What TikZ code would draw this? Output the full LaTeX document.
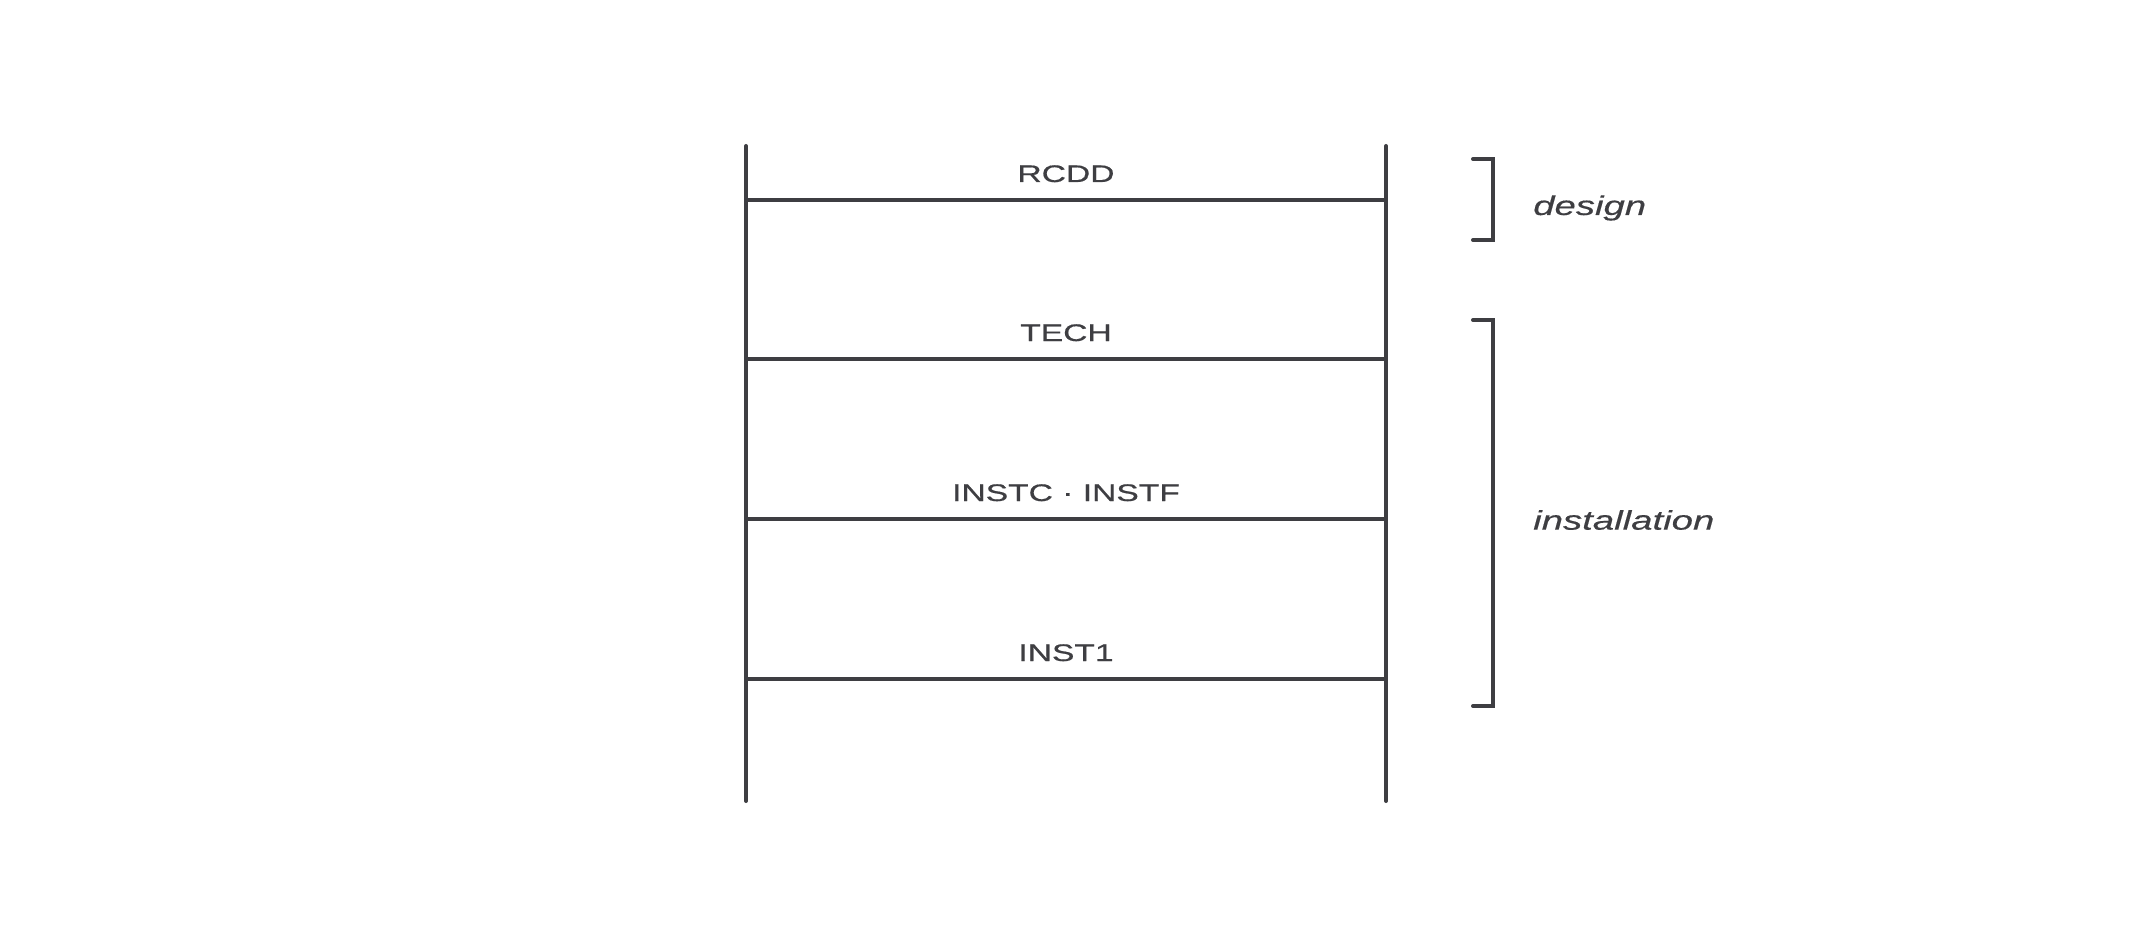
\documentclass[tikz,border=0pt]{standalone}
\usepackage{fontspec}
\newfontfamily\handcaps[FakeStretch=1.4,FakeBold=0.6]{Liberation Sans}
\newfontfamily\handlow[FakeStretch=1.42,FakeBold=0.4]{Liberation Sans Italic}
\definecolor{ink}{RGB}{62,62,66}
\begin{document}
\begin{tikzpicture}[x=1pt,y=-1pt,
  rail/.style={draw=ink,line width=4pt,line cap=round},
  rung/.style={draw=ink,line width=4pt},
  brk/.style={draw=ink,line width=4pt,line cap=round,line join=miter},
  rungtxt/.style={text=ink,inner sep=0pt,anchor=base,font=\handcaps\fontsize{24}{28}\selectfont},
  sidetxt/.style={text=ink,inner sep=0pt,anchor=west,font=\handlow\fontsize{27}{31}\selectfont}]
\useasboundingbox (0,0) rectangle (2133,933);
% rails
\coordinate (LT) at (746,146);
\coordinate (LB) at (746,801);
\coordinate (RT) at (1386,146);
\coordinate (RB) at (1386,801);
\draw[rail] (LT) -- (LB);
\draw[rail] (RT) -- (RB);
% rungs
\foreach \n/\y in {a/200,b/359,c/519,d/679}{
  \coordinate (\n L) at (746,\y);
  \coordinate (\n R) at (1386,\y);
  \draw[rung] (\n L) -- (\n R);
}
\node[rungtxt] (ta) at (1066,182) {RCDD};
\node[rungtxt] (tb) at (1066,341) {TECH};
\node[rungtxt] (tc) at (1066,501) {INSTC · INSTF};
\node[rungtxt] (td) at (1066,661) {INST1};
% brackets
\coordinate (d1) at (1473,159);
\coordinate (d2) at (1493,159);
\coordinate (d3) at (1493,240);
\coordinate (d4) at (1473,240);
\draw[brk] (d1) -- (d2) -- (d3) -- (d4);
\coordinate (i1) at (1473,320);
\coordinate (i2) at (1493,320);
\coordinate (i3) at (1493,706);
\coordinate (i4) at (1473,706);
\draw[brk] (i1) -- (i2) -- (i3) -- (i4);
\node[sidetxt] (design) at (1533,208) {design};
\node[sidetxt] (inst) at (1533,520) {installation};
\end{tikzpicture}
\end{document}
